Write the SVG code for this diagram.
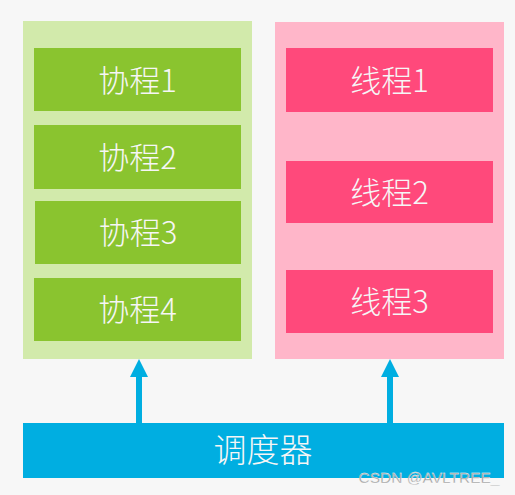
<svg xmlns="http://www.w3.org/2000/svg" width="515" height="495" viewBox="0 0 515 495">
<defs>
<style>
.t{font-family:"Noto Sans CJK SC","Liberation Sans",sans-serif;font-size:31px;font-weight:300;fill:#f6f6f6;text-anchor:middle;dominant-baseline:central}
.g{fill:#8ac42f}
.p{fill:#ff497b}
.ar{fill:#00aee1}
</style>
</defs>
<rect width="515" height="495" fill="#f7f7f7"/>
<g id="coroutine-group">
<rect x="23" y="21" width="229" height="338" fill="#d2eaab"/>
</g>
<g id="thread-group">
<rect x="275" y="22" width="229" height="337" fill="#ffb6c9"/>
</g>
<g id="co1"><rect class="g" x="34" y="48" width="207" height="63"/><text class="t" x="137.5" y="78">协程1</text></g>
<g id="co2"><rect class="g" x="34" y="125" width="207" height="64"/><text class="t" x="137.5" y="155">协程2</text></g>
<g id="co3"><rect class="g" x="35" y="201" width="206" height="63"/><text class="t" x="138" y="230">协程3</text></g>
<g id="co4"><rect class="g" x="34" y="278" width="207" height="63"/><text class="t" x="137.5" y="307">协程4</text></g>
<g id="th1"><rect class="p" x="286" y="48" width="207" height="64"/><text class="t" x="389.5" y="78">线程1</text></g>
<g id="th2"><rect class="p" x="286" y="161" width="207" height="62"/><text class="t" x="389.5" y="190">线程2</text></g>
<g id="th3"><rect class="p" x="286" y="270" width="207" height="63"/><text class="t" x="389.5" y="299">线程3</text></g>
<g id="scheduler"><rect x="23" y="423" width="481" height="55" fill="#00aee1"/><text class="t" x="263" y="448" style="font-size:33px">调度器</text></g>
<g id="connectors">
<rect class="ar" x="136" y="376" width="6" height="47"/>
<polygon class="ar" points="139,359 148,377 130,377"/>
<rect class="ar" x="387" y="376" width="6" height="47"/>
<polygon class="ar" points="390,359 399,377 381,377"/>
</g>
<text x="429" y="477" style="font-family:'Liberation Sans',sans-serif;font-size:15.5px;fill:#9a9a9a;text-anchor:middle;dominant-baseline:central" stroke="#ffffff" stroke-width="0.3">CSDN @AVLTREE_</text>
</svg>
